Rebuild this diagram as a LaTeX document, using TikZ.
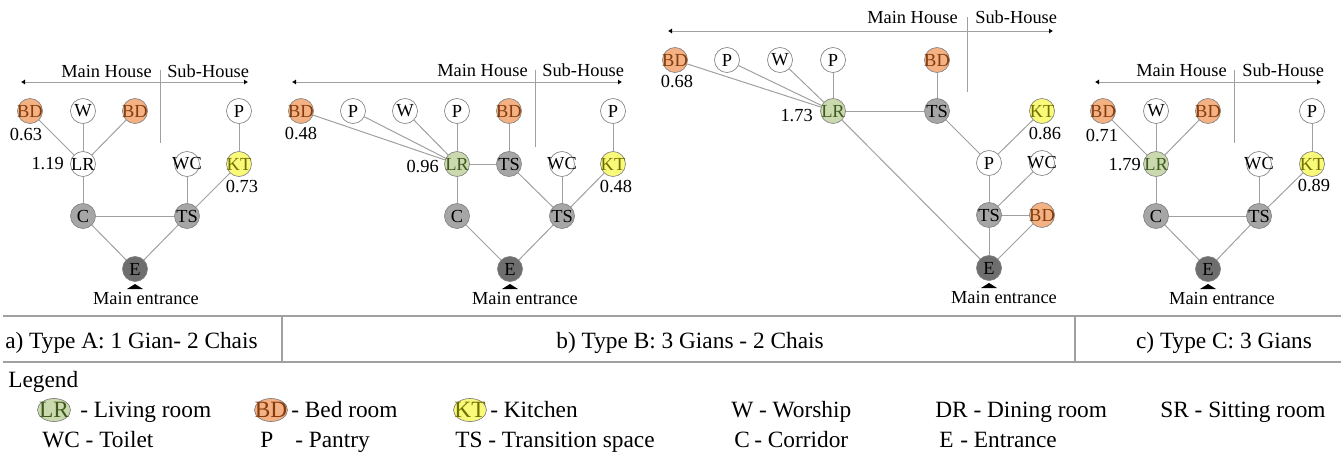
\documentclass[tikz,border=0pt]{standalone}
\usepackage{fontspec}
\setmainfont{Liberation Serif}
\usetikzlibrary{arrows.meta,shapes.geometric}

\definecolor{edgegray}{HTML}{A0A0A0}
\definecolor{rimgray}{HTML}{808080}
\definecolor{bedfill}{HTML}{F4B183}
\definecolor{bedtext}{HTML}{843C0C}
\definecolor{livfill}{HTML}{CBD9AF}
\definecolor{livtext}{HTML}{3F5A1E}
\definecolor{kitfill}{HTML}{FAFA7A}
\definecolor{kittext}{HTML}{707000}
\definecolor{tsfill}{HTML}{A6A6A6}
\definecolor{entfill}{HTML}{6E6E6E}

\begin{document}
\begin{tikzpicture}[x=0.75pt,y=-0.75pt,
        room/.style={circle,draw=rimgray,line width=0.5pt,fill=white,minimum size=18.75pt,
                     inner sep=-3pt,font=\fontsize{13.8}{13.8}\selectfont},
        bed/.style={room,fill=bedfill,text=bedtext},
        living/.style={room,fill=livfill,text=livtext},
        kitchen/.style={room,fill=kitfill,text=kittext},
        trans/.style={room,fill=tsfill},
        entry/.style={room,fill=entfill},
        link/.style={draw=edgegray,line width=0.75pt},
        zone/.style={draw=edgegray,line width=0.75pt},
        span/.style={zone,{Latex[black,length=3pt,width=4pt]}-{Latex[black,length=3pt,width=4pt]}},
        small/.style={font=\fontsize{13.8}{13.8}\selectfont,inner sep=0pt},
        big/.style={font=\fontsize{17.5}{17.5}\selectfont,inner sep=0pt},
        key/.style={ellipse,draw=rimgray,line width=0.5pt,minimum width=24.75pt,minimum height=17.25pt,
                    inner sep=-4pt,font=\fontsize{17.5}{17.5}\selectfont}]
        \useasboundingbox (0,0) rectangle (1341,454);

        % a) Type A
        \draw[span] (21,82) -- (248,82);
        \draw[zone] (160,70) -- (160,143);
        \node[small,anchor=base east] (a-main) at (152,77) {Main House};
        \node[small,anchor=base west] (a-sub)  at (167,77) {Sub-House};

        \node[bed]     (a-bd1) at (30,111)  {BD};
        \node[room]    (a-w)   at (83,111)  {W};
        \node[bed]     (a-bd2) at (135,111) {BD};
        \node[room]    (a-p)   at (239,111) {P};
        \node[room]    (a-lr)  at (83,164)  {LR};
        \node[room]    (a-wc)  at (187,164) {WC};
        \node[kitchen] (a-kt)  at (239,164) {KT};
        \node[trans]   (a-c)   at (83,216)  {C};
        \node[trans]   (a-ts)  at (187,216) {TS};
        \node[entry]   (a-e)   at (135,269) {E};

        \draw[link] (a-bd1) -- (a-lr);
        \draw[link] (a-w) -- (a-lr);
        \draw[link] (a-bd2) -- (a-lr);
        \draw[link] (a-lr) -- (a-c);
        \draw[link] (a-c) -- (a-ts);
        \draw[link] (a-c) -- (a-e);
        \draw[link] (a-ts) -- (a-e);
        \draw[link] (a-wc) -- (a-ts);
        \draw[link] (a-kt) -- (a-ts);
        \draw[link] (a-p) -- (a-kt);

        \node[small,anchor=base]      (a-v1) at (26,140)  {0.63};
        \node[small,anchor=base east] (a-v2) at (64,169)  {1.19};
        \node[small,anchor=base]      (a-v3) at (242,192) {0.73};
        \fill ([shift={(-8,20)}]a-e.center) -- ([shift={(8,20)}]a-e.center) -- ([shift={(0,15)}]a-e.center) -- cycle;
        \node[small,anchor=base] (a-door) at ([shift={(11,35)}]a-e.center) {Main entrance};

        % b) Type B
        \draw[span] (292,82) -- (622,82);
        \draw[zone] (535,70) -- (535,147);
        \node[small,anchor=base east] (b-main) at (528,76) {Main House};
        \node[small,anchor=base west] (b-sub)  at (542,76) {Sub-House};

        \node[bed]     (b-bd1) at (301,111) {BD};
        \node[room]    (b-p1)  at (353,111) {P};
        \node[room]    (b-w)   at (405,111) {W};
        \node[room]    (b-p2)  at (457,111) {P};
        \node[bed]     (b-bd2) at (509,111) {BD};
        \node[room]    (b-p3)  at (613,111) {P};
        \node[living]  (b-lr)  at (457,164) {LR};
        \node[trans]   (b-ts1) at (509,164) {TS};
        \node[room]    (b-wc)  at (562,164) {WC};
        \node[kitchen] (b-kt)  at (613,164) {KT};
        \node[trans]   (b-c)   at (457,216) {C};
        \node[trans]   (b-ts2) at (562,216) {TS};
        \node[entry]   (b-e)   at (510,269) {E};

        \draw[link] (b-bd1) -- (b-lr);
        \draw[link] (b-p1) -- (b-lr);
        \draw[link] (b-w) -- (b-lr);
        \draw[link] (b-p2) -- (b-lr);
        \draw[link] (b-bd2) -- (b-ts1);
        \draw[link] (b-lr) -- (b-ts1);
        \draw[link] (b-lr) -- (b-c);
        \draw[link] (b-ts1) -- (b-ts2);
        \draw[link] (b-wc) -- (b-ts2);
        \draw[link] (b-kt) -- (b-ts2);
        \draw[link] (b-p3) -- (b-kt);
        \draw[link] (b-c) -- (b-e);
        \draw[link] (b-ts2) -- (b-e);

        \node[small,anchor=base]      (b-v1) at (301,139) {0.48};
        \node[small,anchor=base east] (b-v2) at (439,172) {0.96};
        \node[small,anchor=base]      (b-v3) at (616,192) {0.48};
        \fill ([shift={(-8,20)}]b-e.center) -- ([shift={(8,20)}]b-e.center) -- ([shift={(0,15)}]b-e.center) -- cycle;
        \node[small,anchor=base] (b-door) at ([shift={(15,35)}]b-e.center) {Main entrance};

        % c) Type C (wide one, shifted up)
        \draw[span] (668,31) -- (1053,31);
        \draw[zone] (967,17) -- (967,92);
        \node[small,anchor=base east] (c-main) at (958,23) {Main House};
        \node[small,anchor=base west] (c-sub)  at (975,23) {Sub-House};

        \node[bed]     (c-bd1) at (675,60)  {BD};
        \node[room]    (c-p1)  at (727,60)  {P};
        \node[room]    (c-w)   at (780,60)  {W};
        \node[room]    (c-p2)  at (833,60)  {P};
        \node[bed]     (c-bd2) at (937,60)  {BD};
        \node[living]  (c-lr)  at (833,111) {LR};
        \node[trans]   (c-ts1) at (937,111) {TS};
        \node[kitchen] (c-kt)  at (1042,111) {KT};
        \node[room]    (c-p3)  at (989,163) {P};
        \node[room]    (c-wc)  at (1042,163) {WC};
        \node[trans]   (c-ts2) at (989,215) {TS};
        \node[bed]     (c-bd3) at (1042,215) {BD};
        \node[entry]   (c-e)   at (989,268) {E};

        \draw[link] (c-bd1) -- (c-lr);
        \draw[link] (c-p1) -- (c-lr);
        \draw[link] (c-w) -- (c-lr);
        \draw[link] (c-p2) -- (c-lr);
        \draw[link] (c-bd2) -- (c-ts1);
        \draw[link] (c-lr) -- (c-ts1);
        \draw[link] (c-lr) -- (c-e);
        \draw[link] (c-ts1) -- (c-p3);
        \draw[link] (c-kt) -- (c-p3);
        \draw[link] (c-p3) -- (c-ts2);
        \draw[link] (c-wc) -- (c-ts2);
        \draw[link] (c-ts2) -- (c-bd3);
        \draw[link] (c-bd3) -- (c-e);
        \draw[link] (c-ts2) -- (c-e);

        \node[small,anchor=base]      (c-v1) at (677,87)  {0.68};
        \node[small,anchor=base east] (c-v2) at (813,121) {1.73};
        \node[small,anchor=base]      (c-v3) at (1045,139) {0.86};
        \fill ([shift={(-8,20)}]c-e.center) -- ([shift={(8,20)}]c-e.center) -- ([shift={(0,15)}]c-e.center) -- cycle;
        \node[small,anchor=base] (c-door) at ([shift={(15,35)}]c-e.center) {Main entrance};

        % d) Type C: 3 Gians
        \draw[span] (1095,82) -- (1321,82);
        \draw[zone] (1234,70) -- (1234,143);
        \node[small,anchor=base east] (d-main) at (1227,76) {Main House};
        \node[small,anchor=base west] (d-sub)  at (1242,76) {Sub-House};

        \node[bed]     (d-bd1) at (1103,111) {BD};
        \node[room]    (d-w)   at (1156,111) {W};
        \node[bed]     (d-bd2) at (1208,111) {BD};
        \node[room]    (d-p)   at (1312,111) {P};
        \node[living]  (d-lr)  at (1156,164) {LR};
        \node[room]    (d-wc)  at (1259,164) {WC};
        \node[kitchen] (d-kt)  at (1312,164) {KT};
        \node[trans]   (d-c)   at (1156,216) {C};
        \node[trans]   (d-ts)  at (1259,216) {TS};
        \node[entry]   (d-e)   at (1208,269) {E};

        \draw[link] (d-bd1) -- (d-lr);
        \draw[link] (d-w) -- (d-lr);
        \draw[link] (d-bd2) -- (d-lr);
        \draw[link] (d-lr) -- (d-c);
        \draw[link] (d-c) -- (d-ts);
        \draw[link] (d-c) -- (d-e);
        \draw[link] (d-ts) -- (d-e);
        \draw[link] (d-wc) -- (d-ts);
        \draw[link] (d-kt) -- (d-ts);
        \draw[link] (d-p) -- (d-kt);

        \node[small,anchor=base]      (d-v1) at (1102,141) {0.71};
        \node[small,anchor=base east] (d-v2) at (1141,170) {1.79};
        \node[small,anchor=base]      (d-v3) at (1314,191) {0.89};
        \fill ([shift={(-8,20)}]d-e.center) -- ([shift={(8,20)}]d-e.center) -- ([shift={(0,15)}]d-e.center) -- cycle;
        \node[small,anchor=base] (d-door) at ([shift={(14,35)}]d-e.center) {Main entrance};

        % caption row
        \draw[zone,line width=1pt] (3,316) -- (1341,316);
        \draw[zone,line width=1pt] (3,362) -- (1341,362);
        \draw[zone,line width=1pt] (282,316) -- (282,362);
        \draw[zone,line width=1pt] (1075,316) -- (1075,362);
        \node[big,anchor=base west] (cap-a) at (5,348)    {a) Type A: 1 Gian- 2 Chais};
        \node[big,anchor=base]      (cap-b) at (690,348)  {b) Type B: 3 Gians - 2 Chais};
        \node[big,anchor=base]      (cap-c) at (1224,348) {c) Type C: 3 Gians};

        % legend
        \node[big,anchor=base west] (leg) at (8,387) {Legend};
        \node[key,fill=livfill,text=livtext] (k-lr) at (54,410)  {LR};
        \node[key,fill=bedfill,text=bedtext] (k-bd) at (271,410) {BD};
        \node[key,fill=kitfill,text=kittext] (k-kt) at (470,410) {KT};
        \node[big,anchor=base west] (t-lr) at (80,417)   {- Living room};
        \node[big,anchor=base west] (t-bd) at (291,417)  {- Bed room};
        \node[big,anchor=base west] (t-kt) at (490,417)  {- Kitchen};
        \node[big,anchor=base west] (t-w)  at (731,417)  {W - Worship};
        \node[big,anchor=base west] (t-dr) at (935,417)  {DR - Dining room};
        \node[big,anchor=base west] (t-sr) at (1160,417) {SR - Sitting room};
        \node[big,anchor=base west] (t-wc) at (42,447)   {WC - Toilet};
        \node[big,anchor=base west] (k-p)  at (260,447)  {P};
        \node[big,anchor=base west] (t-p)  at (295,447)  {- Pantry};
        \node[big,anchor=base west] (t-ts) at (455,447)  {TS - Transition space};
        \node[big,anchor=base west] (k-c)  at (734,447)  {C};
        \node[big,anchor=base west] (t-c)  at (754,447)  {- Corridor};
        \node[big,anchor=base west] (k-e)  at (939,447)  {E};
        \node[big,anchor=base west] (t-e)  at (960,447)  {- Entrance};
\end{tikzpicture}
\end{document}
